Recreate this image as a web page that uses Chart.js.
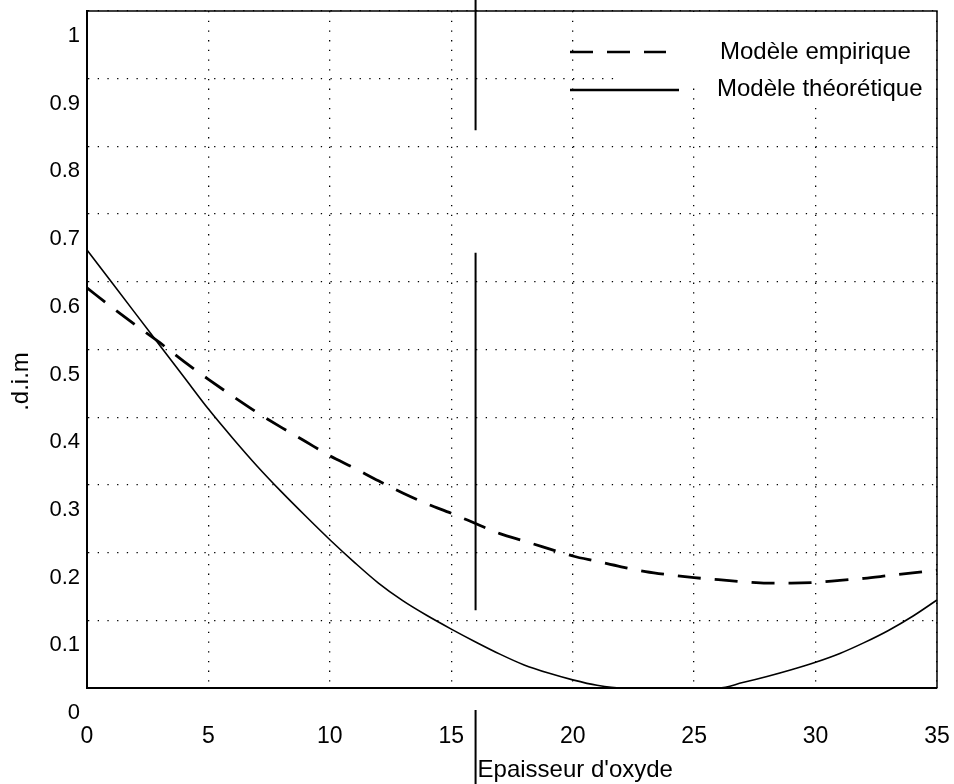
<!DOCTYPE html>
<html>
<head>
<meta charset="utf-8">
<script src="https://cdn.jsdelivr.net/npm/chart.js@4/dist/chart.umd.min.js"></script>
<style>
    html, body { margin: 0; padding: 0; background: #fff; }
</style>
</head>
<body>
<canvas id="chart" width="954" height="784"></canvas>
<script>
const epaisseur = [0, 1, 2, 3, 4, 5, 6, 7, 8, 9, 10, 11, 12, 13, 14, 15, 16, 17,
    18, 19, 20, 21, 22, 23, 24, 25, 26, 27, 28, 29, 30, 31, 32, 33, 34, 35];
const empirique = [0.591, 0.563, 0.536, 0.510, 0.482, 0.456, 0.431, 0.407, 0.385, 0.364,
    0.343, 0.325, 0.306, 0.288, 0.272, 0.258, 0.243, 0.228, 0.217, 0.206, 0.195, 0.187,
    0.179, 0.172, 0.167, 0.163, 0.160, 0.157, 0.155, 0.155, 0.156, 0.159, 0.162, 0.166,
    0.170, 0.174];
const theorique = [0.647, 0.600, 0.553, 0.506, 0.459, 0.412, 0.369, 0.328, 0.290, 0.254,
    0.219, 0.186, 0.155, 0.129, 0.107, 0.087, 0.068, 0.050, 0.034, 0.022, 0.012, 0.004,
    0, 0, 0, 0, 0, 0.008, 0.017, 0.027, 0.038, 0.051, 0.067, 0.085, 0.106, 0.130];
const xTicks = [0, 5, 10, 15, 20, 25, 30, 35];
const yTicks = [0, 0.1, 0.2, 0.3, 0.4, 0.5, 0.6, 0.7, 0.8, 0.9, 1];
const seriesNames = ['Modèle empirique', 'Modèle théorétique'];
const xTitle = "Epaisseur d'oxyde";
const yTitle = '.d.i.m';

const FONT = '"Liberation Sans", Arial, Helvetica, sans-serif';
const DASH = [23, 14];

// legend, frame, axis titles and the stray scan lines
const decorPlugin = {
    id: 'decor',
    afterDraw(chart) {
        const { ctx, chartArea: a, scales } = chart;
        const xs = scales.x, ys = scales.y;
        ctx.save();

        ctx.strokeStyle = '#000';
        ctx.lineWidth = 1.5;
        ctx.beginPath();
        ctx.moveTo(a.left, a.top);
        ctx.lineTo(a.right, a.top);
        ctx.lineTo(a.right, a.bottom);
        ctx.stroke();

        // legend
        ctx.fillStyle = '#fff';
        ctx.fillRect(a.right - 317, a.top + 1, 316, 69);
        ctx.fillRect(a.right - 227, a.top + 1, 226, 90);

        ctx.strokeStyle = '#000';
        ctx.lineWidth = 2.5;
        ctx.setLineDash(DASH);
        ctx.beginPath();
        ctx.moveTo(a.right - 367, a.top + 41);
        ctx.lineTo(a.right - 271, a.top + 41);
        ctx.stroke();
        ctx.setLineDash([]);
        ctx.beginPath();
        ctx.moveTo(a.right - 367, a.top + 79);
        ctx.lineTo(a.right - 258, a.top + 79);
        ctx.stroke();

        ctx.fillStyle = '#000';
        ctx.font = '24px ' + FONT;
        ctx.textAlign = 'left';
        ctx.textBaseline = 'middle';
        ctx.fillText(seriesNames[0], a.right - 217, a.top + 41);
        ctx.fillText(seriesNames[1], a.right - 220, a.top + 78);

        // stray vertical line from the scan
        const sx = xs.getPixelForValue(16);
        ctx.lineWidth = 2;
        ctx.beginPath();
        ctx.moveTo(sx, 0);
        ctx.lineTo(sx, ys.getPixelForValue(0.824));
        ctx.moveTo(sx, ys.getPixelForValue(0.643));
        ctx.lineTo(sx, ys.getPixelForValue(0.115));
        ctx.moveTo(sx, a.bottom + 22);
        ctx.lineTo(sx, chart.height);
        ctx.stroke();

        // axis titles
        ctx.font = '24px ' + FONT;
        ctx.textAlign = 'left';
        ctx.textBaseline = 'alphabetic';
        ctx.fillText(xTitle, sx + 2, a.bottom + 89);

        ctx.translate(28, (a.top + a.bottom) / 2 + 32);
        ctx.rotate(-Math.PI / 2);
        ctx.textAlign = 'center';
        ctx.fillText(yTitle, 0, 0);
        ctx.restore();
    }
};

function noPadding(scale) {
    scale.paddingLeft = 0;
    scale.paddingRight = 0;
    scale.paddingTop = 0;
    scale.paddingBottom = 0;
}

const ctx = document.getElementById('chart').getContext('2d');
const chart = new Chart(ctx, {
    type: 'line',
    data: {
        labels: epaisseur,
        datasets: [{
            label: seriesNames[0],
            data: epaisseur.map((x, i) => ({ x: x, y: empirique[i] })),
            borderColor: '#000',
            borderWidth: 2.8,
            borderDash: DASH,
            pointRadius: 0,
            cubicInterpolationMode: 'monotone',
            fill: false,
            clip: 3
        }, {
            label: seriesNames[1],
            data: epaisseur.map((x, i) => ({ x: x, y: theorique[i] })),
            borderColor: '#000',
            borderWidth: 1.6,
            pointRadius: 0,
            cubicInterpolationMode: 'monotone',
            fill: false,
            clip: 3
        }]
    },
    options: {
        responsive: false,
        animation: false,
        layout: {
            autoPadding: false,
            padding: { top: 11, right: 17, left: 0, bottom: 0 }
        },
        scales: {
            x: {
                type: 'linear',
                min: 0,
                max: 35,
                afterBuildTicks: (scale) => {
                    scale.ticks = xTicks.map(v => ({ value: v }));
                },
                afterFit: (scale) => { scale.height = 96; noPadding(scale); },
                ticks: {
                    color: '#000',
                    font: { family: FONT, size: 23 },
                    padding: 35,
                    maxRotation: 0,
                    callback: (v) => String(v)
                },
                grid: { color: '#000', lineWidth: 1.3, drawTicks: false },
                border: { color: '#000', width: 2, dash: [1.3, 8.4] }
            },
            y: {
                type: 'linear',
                min: 0,
                max: 1,
                afterBuildTicks: (scale) => {
                    scale.ticks = yTicks.map(v => ({ value: v }));
                },
                afterFit: (scale) => { scale.width = 87; noPadding(scale); },
                ticks: {
                    color: '#000',
                    font: { family: FONT, size: 22 },
                    padding: 7,
                    labelOffset: 25,
                    callback: (v) => String(+v.toFixed(1))
                },
                grid: { color: '#000', lineWidth: 1.3, drawTicks: false },
                border: { color: '#000', width: 2, dash: [1.3, 8.4] }
            }
        },
        plugins: {
            legend: { display: false },
            tooltip: { enabled: false }
        }
    },
    plugins: [decorPlugin]
});
</script>
</body>
</html>
